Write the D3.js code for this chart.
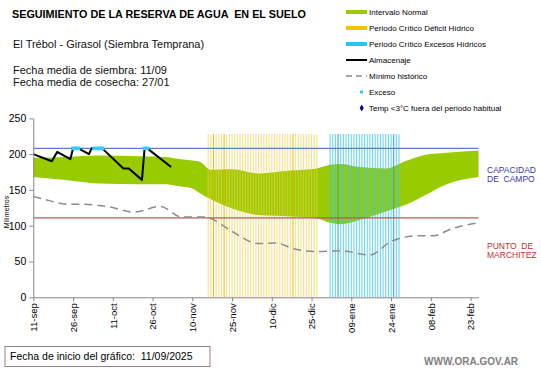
<!DOCTYPE html>
<html><head><meta charset="utf-8">
<script src="https://cdn.jsdelivr.net/npm/d3@7"></script>
<style>
html,body{margin:0;padding:0;background:#fff;}
svg{display:block;font-family:"Liberation Sans",Arial,sans-serif;}
</style></head>
<body><svg id="c" width="541" height="368"></svg>
<script>
// ---- data ----
const startDate = "2025-09-11";
const endDate = "2026-02-26";
const tickDates = ["2025-09-11","2025-09-26","2025-10-11","2025-10-26","2025-11-10","2025-11-25","2025-12-10","2025-12-25","2026-01-09","2026-01-24","2026-02-08","2026-02-23"];
const tickLabels = ["11-sep","26-sep","11-oct","26-oct","10-nov","25-nov","10-dic","25-dic","09-ene","24-ene","08-feb","23-feb"];
const yTicks = [0,50,100,150,200,250];

// Intervalo normal (upper / lower)
const bandDates = ["2025-09-11","2025-09-23","2025-10-06","2025-10-21","2025-10-31","2025-11-05","2025-11-10","2025-11-13","2025-11-17","2025-11-25","2025-12-05","2025-12-17","2025-12-27","2026-01-01","2026-01-05","2026-01-12","2026-01-22","2026-01-30","2026-02-06","2026-02-14","2026-02-26"];
const bandUpper = [195,196,198,197,196,193,191,189,178,179,173,177,180,185,186,182,180,191,199,202,205];
const bandLower = [168,164,159,158,158,155,152,145,137,124,115,113,110,104,102,108,120,130,143,158,168];

// Almacenaje
const almDates = ["2025-09-11","2025-09-18","2025-09-20","2025-09-25","2025-09-26","2025-09-28","2025-10-02","2025-10-03","2025-10-07","2025-10-15","2025-10-17","2025-10-22","2025-10-23","2025-10-24","2025-11-02"];
const almValues = [200,190,203,193,208,208,200,208,208,180,180,164,208,208,182];

// Mínimo histórico
const minDates = ["2025-09-11","2025-09-17","2025-09-24","2025-09-30","2025-10-10","2025-10-19","2025-10-29","2025-11-06","2025-11-15","2025-11-17","2025-11-25","2025-12-05","2025-12-11","2025-12-19","2025-12-27","2026-01-05","2026-01-16","2026-01-24","2026-01-27","2026-02-03","2026-02-09","2026-02-16","2026-02-26"];
const minValues = [141,135,130,130,126,119,127,112,112,110,92,75,76,67,64,65,59,78,82,86,86,96,104];

// Excesos
const excesoDates = ["2025-09-26","2025-09-27","2025-09-28","2025-10-04","2025-10-05","2025-10-06","2025-10-07","2025-10-23","2025-10-24"];
const excesoValue = 208;

// Periodos críticos
const deficitPeriod = ["2025-11-16","2025-12-27"];
const deficitStrong = ["2025-11-18","2025-11-22","2025-12-18"];
const excesoPeriod = ["2026-01-01","2026-01-27"];
const excesoStrong = ["2026-01-04","2026-01-25"];
const periodTop = 228;

const capacidadCampo = 208;
const puntoMarchitez = 111;

const legendItems = ["Intervalo Normal","Periodo Crítico Déficit Hídrico","Periodo Crítico Excesos Hídricos","Almacenaje","Mínimo histórico","Exceso","Temp <3°C fuera del periodo habitual"];

// ---- drawing ----
const P = d3.timeParse("%Y-%m-%d");
const svg = d3.select("#c");
svg.append("rect").attr("width",541).attr("height",368).attr("fill","#fff");

const x = d3.scaleTime().domain([P(startDate),P(endDate)]).range([33.3,478.5]);
const y = d3.scaleLinear().domain([0,250]).range([297.3,118.3]);

// band
const band = bandDates.map((d,i)=>({d:P(d),u:bandUpper[i],l:bandLower[i]}));
svg.append("path").datum(band)
  .attr("d", d3.area().x(d=>x(d.d)).y0(d=>y(d.l)).y1(d=>y(d.u)).curve(d3.curveMonotoneX))
  .attr("fill","#99cc00");

// periods
function periodLines(period, strong, light, dark, op){
  const days = d3.timeDay.range(P(period[0]), d3.timeDay.offset(P(period[1]),1));
  const strongSet = new Set(strong);
  const fmt = d3.timeFormat("%Y-%m-%d");
  svg.append("g").selectAll("line").data(days).join("line")
    .attr("x1",d=>x(d)).attr("x2",d=>x(d))
    .attr("y1",y(periodTop)).attr("y2",y(0))
    .attr("stroke",d=>strongSet.has(fmt(d))?dark:light)
    .attr("stroke-opacity",d=>strongSet.has(fmt(d))?0.9:op)
    .attr("stroke-width",1.1);
}
periodLines(deficitPeriod, deficitStrong, "#f0d050", "#e8b800", 0.65);
periodLines(excesoPeriod, excesoStrong, "#3cc4e4", "#10a8d0", 0.75);

// reference lines
svg.append("line").attr("x1",x.range()[0]).attr("x2",x.range()[1])
  .attr("y1",y(capacidadCampo)).attr("y2",y(capacidadCampo))
  .attr("stroke","#5a80cc").attr("stroke-width",1.2);
svg.append("line").attr("x1",x.range()[0]).attr("x2",x.range()[1])
  .attr("y1",y(puntoMarchitez)).attr("y2",y(puntoMarchitez))
  .attr("stroke","#b85858").attr("stroke-width",1.2);

// minimo historico
const minData = minDates.map((d,i)=>({d:P(d),v:minValues[i]}));
svg.append("path").datum(minData)
  .attr("d", d3.line().x(d=>x(d.d)).y(d=>y(d.v)).curve(d3.curveMonotoneX))
  .attr("fill","none").attr("stroke","#8c8c8c").attr("stroke-width",1.5)
  .attr("stroke-dasharray","8,5");

// almacenaje
const almData = almDates.map((d,i)=>({d:P(d),v:almValues[i]}));
svg.append("path").datum(almData)
  .attr("d", d3.line().x(d=>x(d.d)).y(d=>y(d.v)))
  .attr("fill","none").attr("stroke","#000").attr("stroke-width",2).attr("stroke-linejoin","round");

// exceso markers
svg.append("g").selectAll("rect").data(excesoDates).join("rect")
  .attr("x",d=>x(P(d))-2).attr("y",y(excesoValue)-1.8).attr("width",4).attr("height",3.6)
  .attr("fill","#33ccff");

// axes
const yAxis = svg.append("g").attr("transform",`translate(${x.range()[0]},0)`)
  .call(d3.axisLeft(y).tickValues(yTicks).tickSize(4).tickPadding(3).tickSizeOuter(0));
yAxis.selectAll("text").attr("font-size",10.5).attr("fill","#000").attr("font-family","Liberation Sans, Arial, sans-serif");
yAxis.selectAll("line,path").attr("stroke","#888");

const xAxis = svg.append("g").attr("transform",`translate(0,${y(0)})`)
  .call(d3.axisBottom(x).tickValues(tickDates.map(P)).tickFormat((d,i)=>tickLabels[i]).tickSize(4).tickSizeOuter(0));
xAxis.selectAll("line,path").attr("stroke","#888");
xAxis.selectAll("text").attr("font-size",9.5).attr("fill","#000").attr("font-family","Liberation Sans, Arial, sans-serif")
  .attr("transform","rotate(-90)").attr("text-anchor","end").attr("x",-6).attr("y",0).attr("dy","0.35em");

// y label
svg.append("text").attr("transform","translate(9,212) rotate(-90)").attr("text-anchor","middle")
  .attr("font-size",7).attr("fill","#000").text("Milímetros");

// right labels
const rl = svg.append("g").attr("font-size",8.5);
rl.append("text").attr("x",487).attr("y",173).attr("fill","#3838a8").text("CAPACIDAD");
rl.append("text").attr("x",487).attr("y",182).attr("fill","#3838a8").attr("xml:space","preserve").text("DE  CAMPO");
rl.append("text").attr("x",487).attr("y",249).attr("fill","#c03030").attr("xml:space","preserve").text("PUNTO  DE");
rl.append("text").attr("x",487).attr("y",258).attr("fill","#c03030").text("MARCHITEZ");

// titles
svg.append("text").attr("x",12).attr("y",18).attr("font-size",10.8).attr("font-weight","bold")
  .attr("xml:space","preserve").text("SEGUIMIENTO DE LA RESERVA DE AGUA  EN EL SUELO");
svg.append("text").attr("x",13).attr("y",48).attr("font-size",11).attr("fill","#111").text("El Trébol - Girasol (Siembra Temprana)");
svg.append("text").attr("x",13).attr("y",74).attr("font-size",11).attr("fill","#111").text("Fecha media de siembra: 11/09");
svg.append("text").attr("x",13).attr("y",86).attr("font-size",11).attr("fill","#111").text("Fecha media de cosecha: 27/01");

// legend
const lg = svg.append("g").attr("font-size",8).attr("fill","#000");
const ly = i => 12 + i*16;
const sx0 = 346, sx1 = 367;
lg.append("rect").attr("x",sx0).attr("y",ly(0)-2).attr("width",sx1-sx0).attr("height",4).attr("fill","#99cc00");
lg.append("rect").attr("x",sx0).attr("y",ly(1)-2).attr("width",sx1-sx0).attr("height",4).attr("fill","#f5c400");
lg.append("rect").attr("x",sx0).attr("y",ly(2)-2).attr("width",sx1-sx0).attr("height",4).attr("fill","#22c8f0");
lg.append("line").attr("x1",sx0).attr("x2",sx1).attr("y1",ly(3)).attr("y2",ly(3)).attr("stroke","#000").attr("stroke-width",2);
lg.append("line").attr("x1",sx0).attr("x2",sx1).attr("y1",ly(4)).attr("y2",ly(4)).attr("stroke","#8c8c8c").attr("stroke-width",1.5).attr("stroke-dasharray","6,4");
lg.append("rect").attr("x",360).attr("y",ly(5)-1.5).attr("width",3).attr("height",3).attr("fill","#33ccff");
lg.append("path").attr("d",d3.symbol(d3.symbolDiamond,14)()).attr("transform",`translate(361.7,${ly(6)})`).attr("fill","#0000a0");
legendItems.forEach((t,i)=>{
  lg.append("text").attr("x",369).attr("y",ly(i)+3).text(t);
});

// bottom box
svg.append("rect").attr("x",5).attr("y",346.5).attr("width",205).attr("height",20).attr("fill","#fff").attr("stroke","#9a8080");
svg.append("text").attr("x",10).attr("y",360).attr("font-size",10.5).attr("fill","#000")
  .attr("xml:space","preserve").text("Fecha de inicio del gráfico:  11/09/2025");
svg.append("text").attr("x",424).attr("y",365).attr("font-size",10).attr("font-weight","bold").attr("fill","#808080")
  .text("WWW.ORA.GOV.AR");
</script></body></html>
